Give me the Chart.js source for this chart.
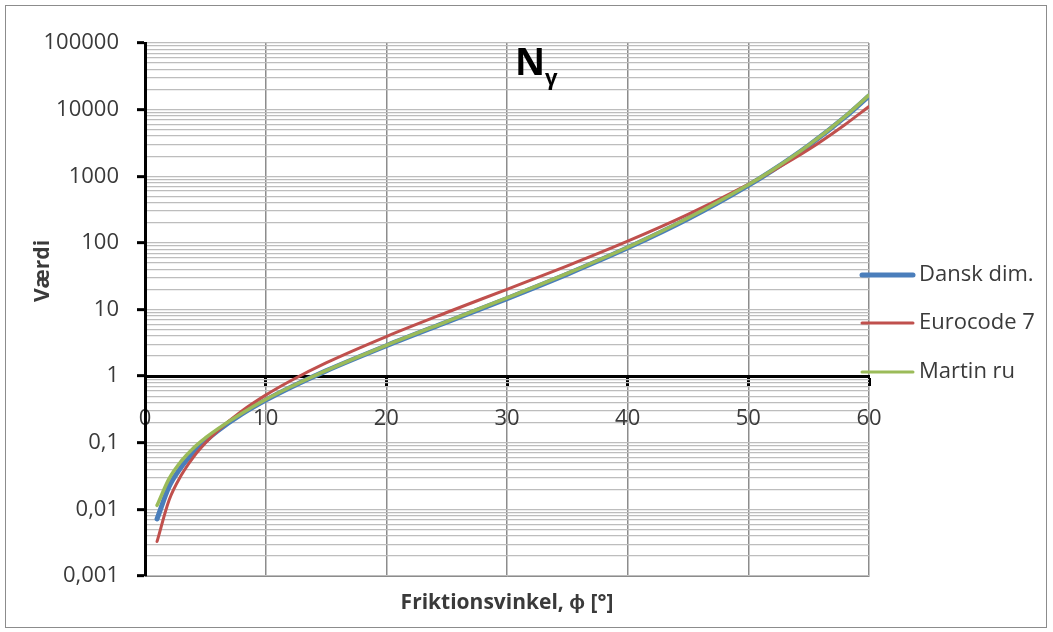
<!DOCTYPE html>
<html>
<head>
<meta charset="utf-8">
<script src="https://cdn.jsdelivr.net/npm/chart.js@4.4.1/dist/chart.umd.min.js"></script>
<style>
  html, body { margin: 0; padding: 0; background: #fff; }
  #wrap { width: 1053px; height: 632px; }
</style>
</head>
<body>
<div id="wrap"><canvas id="nChart" width="1053" height="632"></canvas></div>
<script>
// friction angle (deg) and N-gamma values
const phi = [1, 2, 3, 4, 5, 6, 8, 10, 12, 15, 20, 25, 30, 35, 40, 45, 50, 52, 55, 58, 60];
const danskDim = [0.0072, 0.022, 0.043, 0.071, 0.106, 0.150, 0.268, 0.436, 0.671, 1.20, 2.86, 6.48, 14.6, 34.0, 84.2, 230, 731, 1227, 2900, 7700, 16100];
const eurocode7 = [0.0033, 0.0138, 0.0324, 0.0605, 0.099, 0.150, 0.297, 0.519, 0.839, 1.58, 3.93, 9.01, 20.1, 45.2, 106, 268, 758, 1200, 2520, 5940, 11130];
const martinRu = [0.0115, 0.029, 0.053, 0.083, 0.118, 0.160, 0.275, 0.445, 0.68, 1.21, 2.9, 6.6, 14.9, 34.8, 86, 236, 745, 1240, 2930, 7850, 16500];

const seriesNames = ['Dansk dim.', 'Eurocode 7', 'Martin ru'];
const xTicks = [0, 10, 20, 30, 40, 50, 60];
const yDecades = [0.001, 0.01, 0.1, 1, 10, 100, 1000, 10000, 100000];
const yDecadeLabels = ['0,001', '0,01', '0,1', '1', '10', '100', '1000', '10000', '100000'];

const FONT = '"Open Sans", "Liberation Sans", sans-serif';
const TEXT = '#3a3a3a';
const colors = ['#4a7ebb', '#c0504d', '#9bbb59'];
const widths = [5, 3, 3.5];

function pts(ys) {
    return phi.map((p, i) => ({ x: p, y: ys[i] }));
}

// all log gridlines: 1..9 x 10^n
function logTicks() {
    const out = [];
    for (let e = -3; e <= 4; e++) {
        for (let m = 1; m <= 9; m++) {
            out.push({ value: Number((m * Math.pow(10, e)).toPrecision(3)) });
        }
    }
    out.push({ value: 100000 });
    return out;
}

function isDecade(v) {
    return yDecades.some(d => Math.abs(d - v) / d < 1e-6);
}

// frame, title, y title and legend
const extras = {
    id: 'extras',
    beforeDraw(chart) {
        const ctx = chart.ctx;
        ctx.save();
        ctx.fillStyle = '#fff';
        ctx.fillRect(0, 0, chart.width, chart.height);
        ctx.strokeStyle = '#8c8c8c';
        ctx.lineWidth = 1;
        ctx.strokeRect(5.5, 5.5, 1041, 622);
        ctx.restore();
    },
    afterDraw(chart) {
        const ctx = chart.ctx;
        ctx.save();
        ctx.fillStyle = '#000';
        ctx.textBaseline = 'alphabetic';
        ctx.textAlign = 'left';
        ctx.font = 'bold 37px ' + FONT;
        ctx.fillText('N', 515, 75);
        ctx.font = 'bold 22px ' + FONT;
        ctx.fillText('γ', 545, 85);

        // y axis title
        ctx.fillStyle = TEXT;
        ctx.translate(43, 271);
        ctx.rotate(-Math.PI / 2);
        ctx.textAlign = 'center';
        ctx.textBaseline = 'middle';
        ctx.font = 'bold 21px ' + FONT;
        ctx.fillText('Værdi', 0, 0);
        ctx.restore();

        // legend
        ctx.save();
        const ys = [275, 323, 372];
        seriesNames.forEach((name, i) => {
            ctx.strokeStyle = colors[i];
            ctx.lineWidth = i === 0 ? 5 : 3;
            ctx.lineCap = 'round';
            ctx.beginPath();
            ctx.moveTo(862, ys[i]);
            ctx.lineTo(913, ys[i]);
            ctx.stroke();
            ctx.fillStyle = TEXT;
            ctx.font = '22px ' + FONT;
            ctx.textAlign = 'left';
            ctx.textBaseline = 'middle';
            ctx.fillText(name, 919, ys[i]);
        });
        ctx.restore();
    }
};

const ctx = document.getElementById('nChart').getContext('2d');
new Chart(ctx, {
    type: 'line',
    data: {
        datasets: [
            { label: seriesNames[0], data: pts(danskDim), borderColor: colors[0], borderWidth: widths[0], order: 3 },
            { label: seriesNames[1], data: pts(eurocode7), borderColor: colors[1], borderWidth: widths[1], order: 2 },
            { label: seriesNames[2], data: pts(martinRu), borderColor: colors[2], borderWidth: widths[2], order: 1 }
        ].map(d => Object.assign(d, {
            pointRadius: 0,
            cubicInterpolationMode: 'monotone',
            fill: false,
            borderCapStyle: 'round'
        }))
    },
    options: {
        responsive: false,
        animation: false,
        layout: { padding: { left: 0, right: 184, top: 43, bottom: 0 } },
        plugins: {
            legend: { display: false },
            tooltip: { enabled: false }
        },
        scales: {
            x: {
                type: 'linear',
                position: 'bottom',
                min: 0,
                max: 60,
                afterBuildTicks: (s) => { s.ticks = xTicks.map(v => ({ value: v })); },
                afterFit: (s) => { s.height = 56; },
                ticks: { display: false },
                grid: { color: '#8c8c8c', lineWidth: 1.5, drawTicks: false },
                border: { color: '#8c8c8c', width: 1 },
                title: {
                    display: true,
                    text: 'Friktionsvinkel, ϕ [°]',
                    color: TEXT,
                    font: { family: FONT, size: 21, weight: 'bold' },
                    padding: { top: 0, bottom: 16 }
                }
            },
            x2: {
                type: 'linear',
                axis: 'x',
                position: { y: 1 },
                min: 0,
                max: 60,
                afterBuildTicks: (s) => { s.ticks = xTicks.map(v => ({ value: v })); },
                ticks: {
                    color: TEXT,
                    font: { family: FONT, size: 22 },
                    padding: 21,
                    maxRotation: 0,
                    autoSkip: false
                },
                grid: {
                    display: true,
                    drawOnChartArea: false,
                    drawTicks: true,
                    tickLength: 8,
                    tickColor: '#000',
                    tickWidth: 3
                },
                border: { display: true, color: '#000', width: 3 }
            },
            y: {
                type: 'logarithmic',
                position: 'left',
                min: 0.001,
                max: 100000,
                afterBuildTicks: (s) => { s.ticks = logTicks(); },
                afterFit: (s) => { s.width = 145; },
                ticks: {
                    autoSkip: false,
                    color: TEXT,
                    font: { family: FONT, size: 22 },
                    padding: 18,
                    callback: (v) => {
                        const i = yDecades.findIndex(d => Math.abs(d - v) / d < 1e-6);
                        return i >= 0 ? yDecadeLabels[i] : '';
                    }
                },
                grid: {
                    color: '#bdbdbd',
                    lineWidth: 1.3,
                    tickLength: 8,
                    tickColor: (c) => (c.tick && isDecade(c.tick.value) ? '#000' : 'rgba(0,0,0,0)'),
                    tickWidth: 3
                },
                border: { color: '#000', width: 3 }
            }
        }
    },
    plugins: [extras]
});
</script>
</body>
</html>
